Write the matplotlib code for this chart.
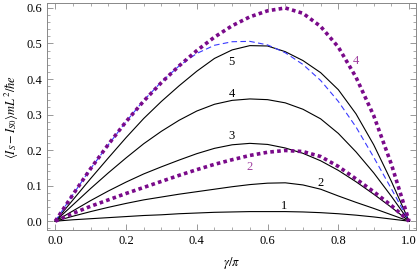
import numpy as np
import matplotlib
matplotlib.use("Agg")
import matplotlib.pyplot as plt
from matplotlib.ticker import MultipleLocator

plt.rcParams['font.family'] = ['Liberation Serif', 'DejaVu Serif']
plt.rcParams['mathtext.fontset'] = 'stix'

# gamma/pi sample points
x = [0.0, 0.05, 0.1, 0.15, 0.2, 0.25, 0.3, 0.35, 0.4, 0.45, 0.5,
     0.55, 0.6, 0.65, 0.7, 0.75, 0.8, 0.85, 0.9, 0.95, 1.0]

# black solid curves, labelled 1..5
n1 = [0, 0.004, 0.007, 0.010, 0.013, 0.016, 0.018, 0.021, 0.023, 0.025, 0.026,
      0.027, 0.027, 0.027, 0.026, 0.024, 0.021, 0.017, 0.012, 0.006, 0]
n2 = [0, 0.014, 0.027, 0.039, 0.050, 0.060, 0.068, 0.076, 0.083, 0.090, 0.097,
      0.103, 0.107, 0.108, 0.102, 0.090, 0.071, 0.053, 0.036, 0.018, 0]
n3 = [0, 0.029, 0.058, 0.085, 0.110, 0.133, 0.153, 0.172, 0.190, 0.205, 0.215,
      0.219, 0.216, 0.206, 0.191, 0.170, 0.143, 0.111, 0.076, 0.039, 0]
n4 = [0, 0.046, 0.092, 0.136, 0.178, 0.218, 0.253, 0.284, 0.310, 0.329, 0.340,
      0.344, 0.342, 0.333, 0.315, 0.288, 0.247, 0.195, 0.136, 0.070, 0]
n5 = [0, 0.060, 0.120, 0.178, 0.235, 0.289, 0.337, 0.381, 0.422, 0.458, 0.482,
      0.494, 0.493, 0.477, 0.452, 0.418, 0.370, 0.302, 0.215, 0.112, 0]

# blue dashed curve
dashed = [0, 0.075, 0.148, 0.215, 0.280, 0.340, 0.392, 0.437, 0.472, 0.495, 0.505,
          0.506, 0.496, 0.474, 0.441, 0.396, 0.337, 0.265, 0.180, 0.091, 0]

# purple dotted curves, labelled 2 and 4
d2 = [0, 0.022, 0.042, 0.060, 0.078, 0.095, 0.112, 0.129, 0.145, 0.160, 0.173,
      0.185, 0.194, 0.199, 0.196, 0.182, 0.154, 0.119, 0.083, 0.044, 0]
d4 = [0, 0.075, 0.148, 0.216, 0.280, 0.338, 0.390, 0.437, 0.480, 0.518, 0.550,
      0.575, 0.592, 0.600, 0.585, 0.548, 0.490, 0.405, 0.297, 0.160, 0]

fig = plt.figure(figsize=(4.17, 2.71), dpi=100)
ax = fig.add_axes([0.113, 0.151, 0.885, 0.838])

for y in [n1, n2, n3, n4, n5]:
    ax.plot(x, y, color='black', lw=0.8)
ax.plot(x, dashed, color='#3a3aff', lw=0.8, dashes=(5, 3))
for y in [d2, d4]:
    ax.plot(x, y, color='#7a0a8a', lw=2.6, dashes=(1.0, 0.9))

# curve labels
ax.text(0.499, 0.449, '5', fontsize=9, ha='center', va='center')
ax.text(0.499, 0.358, '4', fontsize=9, ha='center', va='center')
ax.text(0.499, 0.239, '3', fontsize=9, ha='center', va='center')
ax.text(0.749, 0.108, '2', fontsize=9, ha='center', va='center')
ax.text(0.647, 0.042, '1', fontsize=9, ha='center', va='center')
ax.text(0.548, 0.153, '2', fontsize=9, ha='center', va='center', color='#a040a0')
ax.text(0.850, 0.451, '4', fontsize=9, ha='center', va='center', color='#a040a0')

ax.set_xlim(-0.023, 1.02)
ax.set_ylim(-0.025, 0.614)
ax.xaxis.set_major_locator(MultipleLocator(0.2))
ax.xaxis.set_minor_locator(MultipleLocator(0.05))
ax.yaxis.set_major_locator(MultipleLocator(0.1))
ax.yaxis.set_minor_locator(MultipleLocator(0.02))
ax.xaxis.set_major_formatter(plt.FuncFormatter(lambda v, p: f'{v:.1f}'))
ax.yaxis.set_major_formatter(plt.FuncFormatter(lambda v, p: f'{v:.1f}'))
ax.tick_params(which='both', direction='in', top=True, right=True,
               color='#888888', labelsize=9)
ax.tick_params(which='major', length=4, width=0.6)
ax.tick_params(which='minor', length=2, width=0.5)
for s in ax.spines.values():
    s.set_color('#888888')
    s.set_linewidth(0.7)

ax.set_xlabel(r'$\gamma/\pi$', fontsize=9, labelpad=6)
ax.set_ylabel(r'$\langle I_S - I_{S0}\rangle mL^2/\hbar e$', fontsize=9, labelpad=4)

fig.savefig('out.png', dpi=100)
